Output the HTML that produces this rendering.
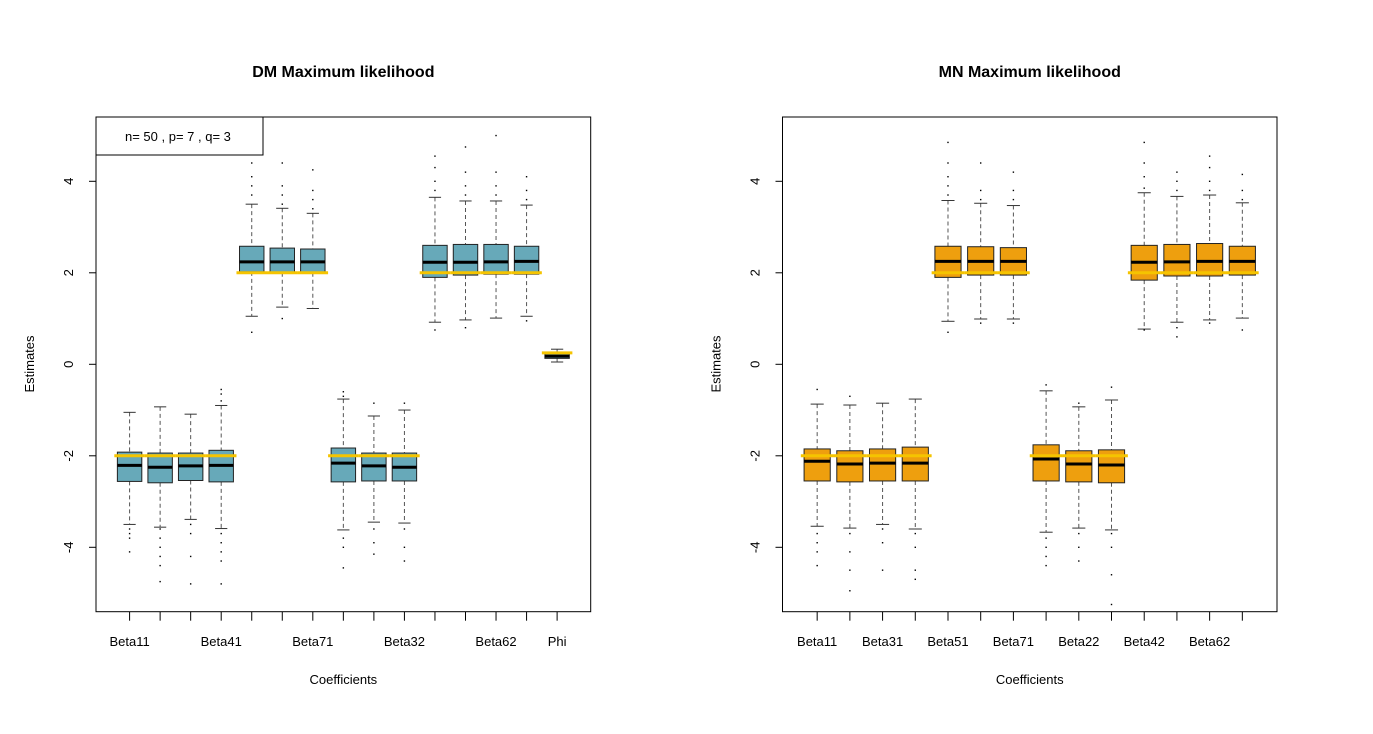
<!DOCTYPE html>
<html><head><meta charset="utf-8"><style>
body{margin:0;background:#fff}
svg text{font-family:"Liberation Sans",Arial,sans-serif;fill:#000}
</style></head><body>
<svg id="chart" xmlns="http://www.w3.org/2000/svg" width="1373" height="729" viewBox="0 0 1373 729"></svg>
<script>
// ---------- data ----------
const dmLabels = ["Beta11","Beta21","Beta31","Beta41","Beta51","Beta61","Beta71","Beta12","Beta22","Beta32","Beta42","Beta52","Beta62","Beta72","Phi"];
const dmShown = ["Beta11","Beta41","Beta71","Beta32","Beta62","Phi"];
const dmQ1 = [-2.56,-2.59,-2.54,-2.57,2.02,2.0,2.0,-2.57,-2.55,-2.55,1.9,1.95,1.97,1.97,0.13];
const dmMed = [-2.21,-2.25,-2.22,-2.21,2.24,2.24,2.24,-2.16,-2.22,-2.25,2.23,2.23,2.24,2.25,0.18];
const dmQ3 = [-1.92,-1.94,-1.94,-1.88,2.58,2.54,2.52,-1.83,-1.94,-1.94,2.6,2.62,2.62,2.58,0.24];
const dmLo = [-3.5,-3.56,-3.39,-3.59,1.05,1.25,1.22,-3.62,-3.45,-3.47,0.92,0.97,1.01,1.05,0.05];
const dmHi = [-1.05,-0.93,-1.09,-0.9,3.5,3.41,3.3,-0.76,-1.13,-1.0,3.65,3.57,3.57,3.48,0.33];
const dmOut = [[-3.6,-3.7,-3.8,-4.1],[-3.6,-3.8,-4.0,-4.2,-4.4,-4.75],[-3.5,-3.7,-4.2,-4.8],[-0.55,-0.65,-0.8,-3.7,-3.9,-4.1,-4.3,-4.8],[3.7,3.9,4.1,4.4,0.7],[3.5,3.7,3.9,4.4,1.0],[3.4,3.6,3.8,4.25],[-0.6,-0.7,-3.8,-4.0,-4.45],[-0.85,-3.6,-3.9,-4.15],[-0.85,-3.6,-4.0,-4.3],[3.8,4.0,4.3,4.55,0.75],[3.7,3.9,4.2,4.75,0.8],[3.7,3.9,4.2,5.0],[3.6,3.8,4.1,0.95],[]];
const dmTrue = [-2,-2,-2,-2,2,2,2,-2,-2,-2,2,2,2,2,0.25];

const mnLabels = ["Beta11","Beta21","Beta31","Beta41","Beta51","Beta61","Beta71","Beta12","Beta22","Beta32","Beta42","Beta52","Beta62","Beta72"];
const mnShown = ["Beta11","Beta31","Beta51","Beta71","Beta22","Beta42","Beta62"];
const mnQ1 = [-2.55,-2.57,-2.55,-2.55,1.9,1.95,1.95,-2.55,-2.57,-2.59,1.84,1.93,1.93,1.95];
const mnMed = [-2.12,-2.18,-2.16,-2.16,2.25,2.25,2.25,-2.07,-2.18,-2.2,2.23,2.24,2.25,2.25];
const mnQ3 = [-1.85,-1.89,-1.85,-1.81,2.58,2.57,2.55,-1.76,-1.89,-1.87,2.6,2.62,2.64,2.58];
const mnLo = [-3.54,-3.58,-3.5,-3.6,0.94,0.99,0.99,-3.67,-3.58,-3.62,0.77,0.92,0.97,1.01];
const mnHi = [-0.87,-0.89,-0.85,-0.76,3.58,3.52,3.47,-0.58,-0.93,-0.78,3.75,3.67,3.7,3.53];
const mnOut = [[-0.55,-3.7,-3.9,-4.1,-4.4],[-0.7,-3.7,-4.1,-4.5,-4.95],[-3.6,-3.9,-4.5],[-3.7,-4.0,-4.5,-4.7],[3.7,3.9,4.1,4.4,4.85,0.7],[3.6,3.8,4.4,0.9],[3.6,3.8,4.2,0.9],[-0.45,-3.8,-4.0,-4.2,-4.4],[-0.85,-3.7,-4.0,-4.3],[-0.5,-3.7,-4.0,-4.6,-5.25],[3.85,4.1,4.4,4.85,0.75],[3.8,4.0,4.2,0.6,0.8],[3.8,4.0,4.3,4.55,0.9],[3.6,3.8,4.15,0.75]];
const mnTrue = [-2,-2,-2,-2,2,2,2,-2,-2,-2,2,2,2,2];
const yTicks = [-4,-2,0,2,4];

// ---------- drawing ----------
const NS="http://www.w3.org/2000/svg";
const svg=document.getElementById('chart');
function mk(tag,attrs,parent){const e=document.createElementNS(NS,tag);for(const k in attrs)e.setAttribute(k,attrs[k]);(parent||svg).appendChild(e);return e;}

function panel(p){
  const g=mk('g',{});
  
  
  const n=p.labels.length;
  const L=p.left,R=p.right,T=117,B=611.7;
  const xlo=0.5-0.04*n, xhi=n+0.5+0.04*n;
  const X=v=>L+(v-xlo)/(xhi-xlo)*(R-L);
  const Y=v=>364.3-v*45.75;
  const unit=(R-L)/(xhi-xlo);
  const hw=unit*0.4;
  // title
  const t=mk('text',{x:(L+R)/2,y:77,'text-anchor':'middle','font-size':'16','font-weight':'bold'},g);
  t.textContent=p.title;
  
  
  // boxes
  for(let i=0;i<n;i++){
    const cx=X(i+1);
    const bg=mk('g',{},g);
    
    
    mk('line',{x1:cx,x2:cx,y1:Y(p.hi[i]),y2:Y(p.q3[i]),stroke:'#555','stroke-width':1,'stroke-dasharray':'4,3'},bg);
    mk('line',{x1:cx,x2:cx,y1:Y(p.q1[i]),y2:Y(p.lo[i]),stroke:'#555','stroke-width':1,'stroke-dasharray':'4,3'},bg);
    mk('line',{x1:cx-hw/2,x2:cx+hw/2,y1:Y(p.hi[i]),y2:Y(p.hi[i]),stroke:'#333','stroke-width':1},bg);
    mk('line',{x1:cx-hw/2,x2:cx+hw/2,y1:Y(p.lo[i]),y2:Y(p.lo[i]),stroke:'#333','stroke-width':1},bg);
    for(const o of p.out[i]) mk('rect',{x:cx-0.7,y:Y(o)-0.7,width:1.4,height:1.4,fill:'#000'},bg);
    mk('rect',{x:cx-hw,y:Y(p.q3[i]),width:2*hw,height:Y(p.q1[i])-Y(p.q3[i]),fill:p.color,stroke:'#222','stroke-width':1},bg);
    mk('line',{x1:cx-hw,x2:cx+hw,y1:Y(p.med[i]),y2:Y(p.med[i]),stroke:'#000','stroke-width':3},bg);
  }
  // true-value lines
  for(let i=0;i<n;i++){
    const cx=X(i+1);
    const tl=mk('line',{x1:cx-unit/2,x2:cx+unit/2,y1:Y(p.truth[i]),y2:Y(p.truth[i]),stroke:'#f5c400','stroke-width':3},g);
    
    
  }
  // frame
  const fr=mk('rect',{x:L,y:T,width:R-L,height:B-T,fill:'none',stroke:'#000','stroke-width':1},g);
  
  
  // y axis
  for(const v of yTicks){
    mk('line',{x1:L,x2:L-7,y1:Y(v),y2:Y(v),stroke:'#000'},g);
    const tx=mk('text',{x:L-23,y:Y(v),'font-size':'13','text-anchor':'middle',transform:`rotate(-90 ${L-23} ${Y(v)})`},g);
    tx.textContent=String(v);
    
    
  }
  const yl=mk('text',{x:L-62,y:364,'font-size':'13','text-anchor':'middle',transform:`rotate(-90 ${L-62} 364)`},g);
  yl.textContent='Estimates';
  
  
  // x axis
  for(let i=0;i<n;i++){
    const cx=X(i+1);
    mk('line',{x1:cx,x2:cx,y1:B,y2:B+9,stroke:'#000'},g);
    if(p.shown.includes(p.labels[i])){
      const tx=mk('text',{x:cx,y:646,'font-size':'13','text-anchor':'middle'},g);
      tx.textContent=p.labels[i];
      
      
    }
  }
  const xl=mk('text',{x:(L+R)/2,y:684,'font-size':'13','text-anchor':'middle'},g);
  xl.textContent='Coefficients';
  
  
  return g;
}

panel({name:'dm-panel',title:'DM Maximum likelihood',left:96,right:590.7,labels:dmLabels,shown:dmShown,q1:dmQ1,med:dmMed,q3:dmQ3,lo:dmLo,hi:dmHi,out:dmOut,truth:dmTrue,color:'#67a9b9'});
panel({name:'mn-panel',title:'MN Maximum likelihood',left:782.5,right:1277,labels:mnLabels,shown:mnShown,q1:mnQ1,med:mnMed,q3:mnQ3,lo:mnLo,hi:mnHi,out:mnOut,truth:mnTrue,color:'#ee9f0e'});

// legend
const lg=mk('g',{});


mk('rect',{x:96,y:117,width:167,height:38,fill:'#fff',stroke:'#000'},lg);
const lt=mk('text',{x:125,y:141,'font-size':'13'},lg);
lt.textContent='n= 50 , p= 7 , q= 3';
</script>
</body></html>
